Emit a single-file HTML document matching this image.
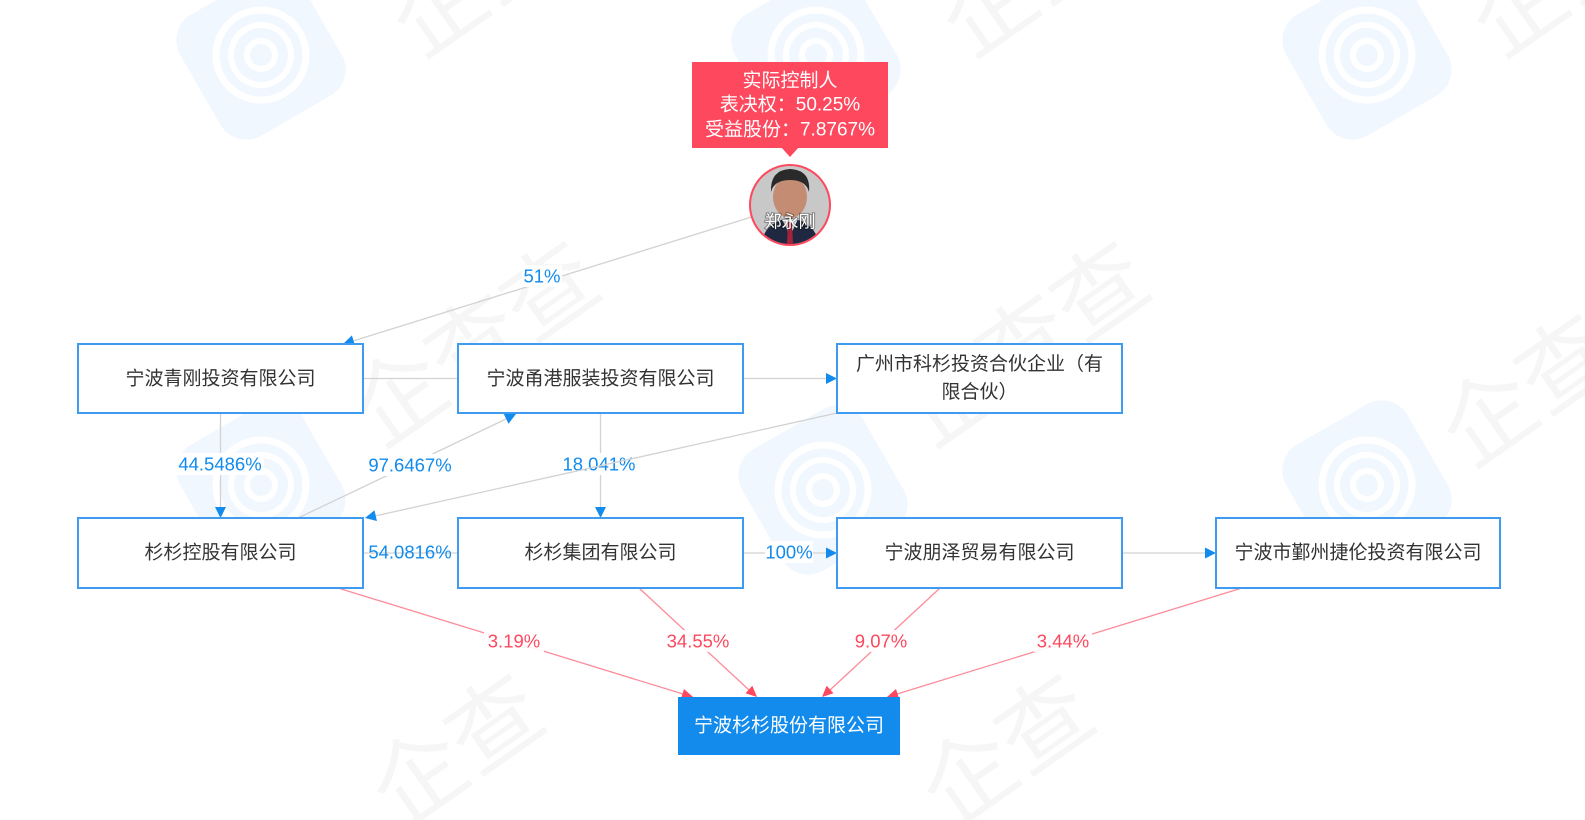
<!DOCTYPE html>
<html><head><meta charset="utf-8">
<style>
html,body{margin:0;padding:0;background:#fff;width:1585px;height:820px;overflow:hidden;}
svg{display:block;}
.bt{font-family:"Liberation Sans","Noto Sans CJK SC",sans-serif;font-size:19px;fill:#333;text-anchor:middle;dominant-baseline:central;}
.pl{font-family:"Liberation Sans","Noto Sans CJK SC",sans-serif;font-size:18.5px;fill:#128bed;text-anchor:middle;dominant-baseline:central;}
.pr{font-family:"Liberation Sans","Noto Sans CJK SC",sans-serif;font-size:18.5px;fill:#fd485e;text-anchor:middle;dominant-baseline:central;}
.tt{font-family:"Liberation Sans","Noto Sans CJK SC",sans-serif;font-size:19px;fill:#fff;text-anchor:middle;dominant-baseline:central;}
.wm{font-family:"Noto Sans CJK SC",sans-serif;font-size:92px;fill:#f6f6f6;}
</style></head>
<body>
<svg width="1585" height="820" viewBox="0 0 1585 820" xmlns="http://www.w3.org/2000/svg" overflow="hidden">
<defs>
<clipPath id="av"><circle cx="790" cy="205" r="39"/></clipPath>
<clipPath id="page"><rect x="0" y="0" width="1585" height="820"/></clipPath>
<g id="logo">
<rect x="-70" y="-70" width="140" height="140" rx="30" fill="#f1f7fe"/>
<circle cx="0" cy="0" r="45" fill="none" stroke="#fff" stroke-width="7"/>
<circle cx="0" cy="0" r="30" fill="none" stroke="#fff" stroke-width="6"/>
<circle cx="0" cy="0" r="14" fill="none" stroke="#fff" stroke-width="6"/>
</g>
</defs>

<g clip-path="url(#page)">
<!-- watermarks -->
<use href="#logo" transform="translate(261,55) rotate(-30)"/>
<use href="#logo" transform="translate(816,55) rotate(-30)"/>
<use href="#logo" transform="translate(1367,55) rotate(-30)"/>
<use href="#logo" transform="translate(261,485) rotate(-30)"/>
<use href="#logo" transform="translate(823,490) rotate(-30)"/>
<use href="#logo" transform="translate(1367,485) rotate(-30)"/>
<text class="wm" transform="translate(420,60) rotate(-35)">企查查</text>
<text class="wm" transform="translate(970,60) rotate(-35)">企查查</text>
<text class="wm" transform="translate(1500,60) rotate(-35)">企查查</text>
<text class="wm" transform="translate(380,450) rotate(-35)">企查查</text>
<text class="wm" transform="translate(930,450) rotate(-35)">企查查</text>
<text class="wm" transform="translate(1470,470) rotate(-35)">企查查</text>
<text class="wm" transform="translate(400,830) rotate(-35)">企查</text>
<text class="wm" transform="translate(950,830) rotate(-35)">企查</text>
</g>

<!-- gray connectors -->
<g stroke="#d2d2d2" stroke-width="1.3" fill="none">
<line x1="790" y1="205" x2="353" y2="341"/>
<line x1="363" y1="378.5" x2="458" y2="378.5"/>
<line x1="743" y1="378.5" x2="828" y2="378.5"/>
<line x1="220.5" y1="413" x2="220.5" y2="508"/>
<line x1="298" y1="518" x2="506" y2="419"/>
<line x1="600.5" y1="413" x2="600.5" y2="508"/>
<line x1="363" y1="553" x2="458" y2="553"/>
<line x1="743" y1="553" x2="828" y2="553"/>
<line x1="1122" y1="553" x2="1207" y2="553"/>
</g>

<!-- labels with white bg -->
<rect x="522" y="265" width="40" height="22" fill="#fff"/>
<text class="pl" x="542" y="276">51%</text>
<rect x="176" y="453" width="88" height="22" fill="#fff"/>
<text class="pl" x="220" y="464">44.5486%</text>
<rect x="366" y="454" width="88" height="22" fill="#fff"/>
<text class="pl" x="410" y="465">97.6467%</text>
<rect x="562" y="453" width="76" height="22" fill="#fff"/>
<text class="pl" x="599" y="464">18.041%</text>
<rect x="765" y="541" width="48" height="22" fill="#fff"/>
<text class="pl" x="789" y="552">100%</text>

<!-- line from 广州 to 杉杉控股 (drawn over label) -->
<line x1="837" y1="413" x2="375" y2="516" stroke="#d2d2d2" stroke-width="1.3"/>
<text class="pl" x="410" y="552">54.0816%</text>

<!-- blue arrowheads -->
<g fill="#128bed">
<polygon points="343,344 355.1,346 351.9,335.4"/>
<polygon points="837,378.5 826,373 826,384"/>
<polygon points="220.5,518 215,507 226,507"/>
<polygon points="516,414 508.5,423.7 503.7,413.7"/>
<polygon points="600.5,518 595,507 606,507"/>
<polygon points="365,518 376.9,521 374.5,510.2"/>
<polygon points="837,553 826,547.5 826,558.5"/>
<polygon points="1216,553 1205,547.5 1205,558.5"/>
</g>

<!-- red connectors -->
<g stroke="#fc8c99" stroke-width="1.3" fill="none">
<line x1="338" y1="588" x2="683" y2="694"/>
<line x1="639" y1="588" x2="749" y2="690"/>
<line x1="940" y1="588" x2="830" y2="690"/>
<line x1="1242" y1="588" x2="897" y2="694"/>
</g>
<rect x="484" y="630" width="60" height="22" fill="#fff" opacity="0.9"/>
<text class="pr" x="514" y="641">3.19%</text>
<rect x="666" y="630" width="64" height="22" fill="#fff" opacity="0.9"/>
<text class="pr" x="698" y="641">34.55%</text>
<rect x="853" y="630" width="56" height="22" fill="#fff" opacity="0.9"/>
<text class="pr" x="881" y="641">9.07%</text>
<rect x="1034" y="630" width="58" height="22" fill="#fff" opacity="0.9"/>
<text class="pr" x="1063" y="641">3.44%</text>
<g fill="#fd485e">
<polygon points="693,697 684,689 681,698.6"/>
<polygon points="757,697 752.3,685.8 745.5,693.2"/>
<polygon points="822,697 833.5,693.2 826.7,685.8"/>
<polygon points="887,697 899,698.6 896,689"/>
</g>

<!-- boxes -->
<g fill="#fff" stroke="#3e9bf0" stroke-width="2">
<rect x="78" y="344" width="285" height="69"/>
<rect x="458" y="344" width="285" height="69"/>
<rect x="837" y="344" width="285" height="69"/>
<rect x="78" y="518" width="285" height="70"/>
<rect x="458" y="518" width="285" height="70"/>
<rect x="837" y="518" width="285" height="70"/>
<rect x="1216" y="518" width="284" height="70"/>
</g>
<text class="bt" x="220.5" y="379">宁波青刚投资有限公司</text>
<text class="bt" x="600.5" y="379">宁波甬港服装投资有限公司</text>
<text class="bt" x="979.5" y="364.5">广州市科杉投资合伙企业（有</text>
<text class="bt" x="979.5" y="392.5">限合伙）</text>
<text class="bt" x="220.5" y="553">杉杉控股有限公司</text>
<text class="bt" x="600.5" y="553">杉杉集团有限公司</text>
<text class="bt" x="979.5" y="553">宁波朋泽贸易有限公司</text>
<text class="bt" x="1358" y="553">宁波市鄞州捷伦投资有限公司</text>

<!-- target -->
<rect x="678" y="697" width="222" height="58" fill="#128bed"/>
<text class="tt" x="789" y="726">宁波杉杉股份有限公司</text>

<!-- tooltip -->
<rect x="692" y="62" width="196" height="86" fill="#fd485e"/>
<polygon points="781,147 799,147 790,157" fill="#fd485e"/>
<text class="tt" x="790" y="81">实际控制人</text>
<text class="tt" x="790" y="105">表决权：50.25%</text>
<text class="tt" x="790" y="130">受益股份：7.8767%</text>

<!-- avatar -->
<circle cx="790" cy="205" r="41" fill="#fd485e"/>
<g clip-path="url(#av)">
<rect x="740" y="160" width="100" height="100" fill="#c8c8c8"/>
<path d="M760 250 Q762 222 790 218 Q818 222 820 250 Z" fill="#1f2840"/>
<path d="M782 219 L790 236 L798 219 Z" fill="#f2f2f2"/>
<path d="M788 222 L792 222 L793 244 L787 244 Z" fill="#a3243a"/>
<ellipse cx="790" cy="197" rx="17" ry="21" fill="#c48d73"/>
<path d="M771 192 Q770 170 790 169 Q811 170 809 192 Q806 180 790 180 Q774 180 771 192 Z" fill="#2a2a2a"/>
</g>
<text class="tt" x="790" y="222" style="font-size:17px;paint-order:stroke;stroke:rgba(0,0,0,0.35);stroke-width:2px;">郑永刚</text>
</svg>
</body></html>
